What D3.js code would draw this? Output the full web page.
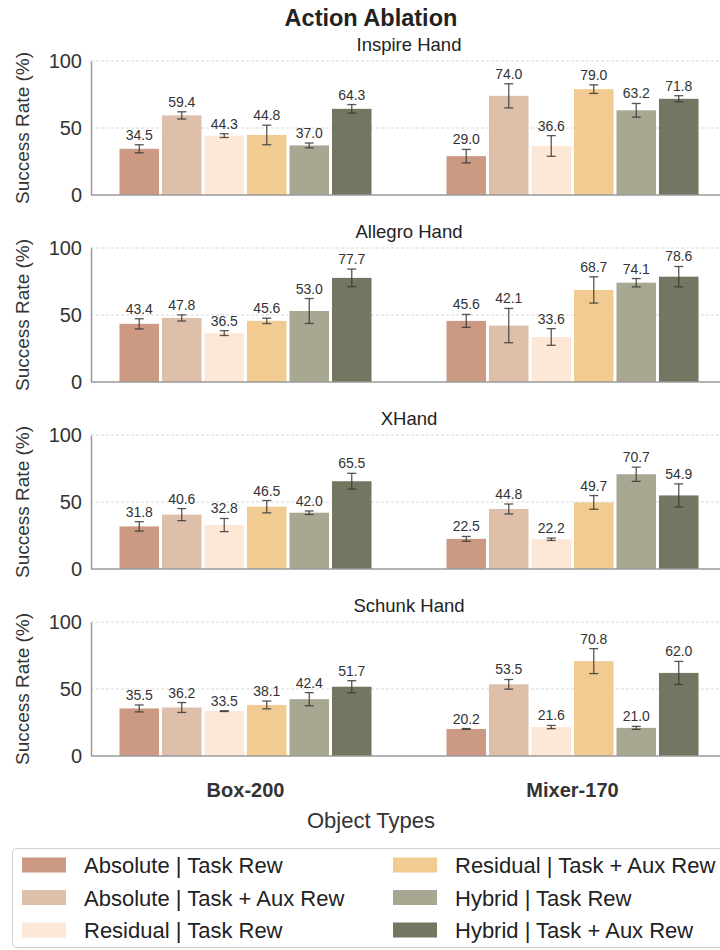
<!DOCTYPE html>
<html>
<head>
<meta charset="utf-8">
<script src="https://cdn.jsdelivr.net/npm/d3@7"></script>
<style>
  body { margin: 0; background: #fff; }
  text { font-family: "Liberation Sans", Arial, sans-serif; }
</style>
</head>
<body>
<div id="chart"></div>
<script>
// data
var hands = ["Inspire Hand", "Allegro Hand", "XHand", "Schunk Hand"];
var objects = ["Box-200", "Mixer-170"];
var methods = ["Absolute | Task Rew", "Absolute | Task + Aux Rew", "Residual | Task Rew",
               "Residual | Task + Aux Rew", "Hybrid | Task Rew", "Hybrid | Task + Aux Rew"];
var colors = ["#cc9a82", "#ddbfaa", "#fde7d7", "#f1cb91", "#a8a791", "#747662"];
var yTicks = [0, 50, 100];

// [object][method]
var meanInspire = [[34.5, 59.4, 44.3, 44.8, 37.0, 64.3], [29.0, 74.0, 36.6, 79.0, 63.2, 71.8]];
var errInspire  = [[3.0, 2.7, 1.4, 7.3, 1.8, 3.2], [5.0, 9.0, 7.7, 3.2, 5.1, 2.3]];
var meanAllegro = [[43.4, 47.8, 36.5, 45.6, 53.0, 77.7], [45.6, 42.1, 33.6, 68.7, 74.1, 78.6]];
var errAllegro  = [[3.8, 2.3, 1.8, 2.0, 9.3, 6.6], [4.8, 12.8, 6.2, 9.8, 3.1, 7.6]];
var meanXHand   = [[31.8, 40.6, 32.8, 46.5, 42.0, 65.5], [22.5, 44.8, 22.2, 49.7, 70.7, 54.9]];
var errXHand    = [[3.5, 4.5, 4.9, 4.6, 1.3, 5.9], [1.8, 3.7, 0.9, 5.1, 5.3, 8.6]];
var meanSchunk  = [[35.5, 36.2, 33.5, 38.1, 42.4, 51.7], [20.2, 53.5, 21.6, 70.8, 21.0, 62.0]];
var errSchunk   = [[2.6, 3.7, 0.3, 2.9, 4.9, 4.5], [0.3, 3.6, 1.2, 9.3, 1.1, 8.6]];

var means = [meanInspire, meanAllegro, meanXHand, meanSchunk];
var errs = [errInspire, errAllegro, errXHand, errSchunk];

var W = 720, H = 950;
var svg = d3.select("#chart").append("svg")
  .attr("width", W).attr("height", H);

// layout
var axLeft = 91, axRight = 727;
var panelTop = 61, panelH = 134, panelStep = 187;

// group centers and bar offsets
var xGroup = d3.scaleLinear().domain([0, 1]).range([245.5, 572.5]);
var xBar = d3.scaleBand().domain(d3.range(methods.length))
  .range([-127.5, 127.5]).paddingInner(0.07).paddingOuter(0.035);

// title
svg.append("text")
  .attr("x", 371).attr("y", 26)
  .attr("text-anchor", "middle")
  .style("font-size", "23.5px").style("font-weight", "bold").attr("fill", "#222")
  .text("Action Ablation");

hands.forEach(function(hand, h) {
  var top = panelTop + h * panelStep;
  var y = d3.scaleLinear().domain([0, 100]).range([top + panelH, top]);
  var g = svg.append("g");

  // grid
  g.selectAll(".grid").data(yTicks.filter(function(t) { return t > 0; }))
    .enter().append("line")
      .attr("x1", axLeft).attr("x2", axRight)
      .attr("y1", function(d) { return y(d); }).attr("y2", function(d) { return y(d); })
      .attr("stroke", "#cfcfcf").attr("stroke-width", 0.8)
      .attr("stroke-dasharray", "3,2");

  // panel title
  g.append("text")
    .attr("x", (axLeft + axRight) / 2).attr("y", top - 10)
    .attr("text-anchor", "middle")
    .style("font-size", "18.5px").attr("fill", "#222")
    .text(hand);

  // y axis
  var yAxis = d3.axisLeft(y).tickValues(yTicks).tickSize(0).tickPadding(9);
  var ya = g.append("g").attr("transform", "translate(" + axLeft + ",0)").call(yAxis);
  ya.select(".domain").attr("stroke", "#9a9a9a").attr("stroke-width", 1.5);
  ya.selectAll(".tick text").style("font-size", "20px").attr("fill", "#333")
    .style("font-family", "'Liberation Sans', Arial, sans-serif");

  // y label
  g.append("text")
    .attr("transform", "translate(29," + (top + panelH / 2) + ") rotate(-90)")
    .attr("text-anchor", "middle")
    .style("font-size", "19px").attr("fill", "#333")
    .text("Success Rate (%)");

  // bars
  var rows = [];
  objects.forEach(function(o, oi) {
    methods.forEach(function(m, mi) {
      rows.push({ o: oi, m: mi, v: means[h][oi][mi], e: errs[h][oi][mi] });
    });
  });

  function bx(d) { return xGroup(d.o) + xBar(d.m); }

  g.selectAll(".bar").data(rows).enter().append("rect")
    .attr("x", bx)
    .attr("y", function(d) { return y(d.v); })
    .attr("width", xBar.bandwidth())
    .attr("height", function(d) { return y(0) - y(d.v); })
    .attr("fill", function(d) { return colors[d.m]; });

  // error bars
  var eb = g.selectAll(".err").data(rows).enter().append("g")
    .attr("stroke", "#3a3a3a").attr("stroke-opacity", 0.85).attr("stroke-width", 1.3);
  eb.append("line")
    .attr("x1", function(d) { return bx(d) + xBar.bandwidth() / 2; })
    .attr("x2", function(d) { return bx(d) + xBar.bandwidth() / 2; })
    .attr("y1", function(d) { return y(d.v - d.e); })
    .attr("y2", function(d) { return y(d.v + d.e); });
  [-1, 1].forEach(function(s) {
    eb.append("line")
      .attr("x1", function(d) { return bx(d) + xBar.bandwidth() / 2 - 4.5; })
      .attr("x2", function(d) { return bx(d) + xBar.bandwidth() / 2 + 4.5; })
      .attr("y1", function(d) { return y(d.v + s * d.e); })
      .attr("y2", function(d) { return y(d.v + s * d.e); });
  });

  // value labels
  g.selectAll(".lbl").data(rows).enter().append("text")
    .attr("x", function(d) { return bx(d) + xBar.bandwidth() / 2; })
    .attr("y", function(d) { return y(d.v + d.e) - 5; })
    .attr("text-anchor", "middle")
    .style("font-size", "14px").attr("fill", "#333")
    .text(function(d) { return d.v.toFixed(1); });

  // bottom spine
  g.append("line")
    .attr("x1", axLeft).attr("x2", axRight)
    .attr("y1", y(0)).attr("y2", y(0))
    .attr("stroke", "#9a9a9a").attr("stroke-width", 1.5);

  // group labels under last panel
  if (h === hands.length - 1) {
    g.selectAll(".grp").data(objects).enter().append("text")
      .attr("x", function(d, i) { return xGroup(i); })
      .attr("y", y(0) + 41)
      .attr("text-anchor", "middle")
      .style("font-size", "20px").style("font-weight", "bold").attr("fill", "#333")
      .text(function(d) { return d; });
  }
});

// x axis label
svg.append("text")
  .attr("x", 371).attr("y", 828)
  .attr("text-anchor", "middle")
  .style("font-size", "22px").attr("fill", "#333")
  .text("Object Types");

// legend
var leg = svg.append("g");
leg.append("rect")
  .attr("x", 12.5).attr("y", 848.5).attr("width", 760).attr("height", 99)
  .attr("rx", 4).attr("fill", "#fff").attr("stroke", "#d0d0d0");

var legItems = leg.selectAll(".item").data(methods).enter().append("g")
  .attr("transform", function(d, i) {
    var col = Math.floor(i / 3), row = i % 3;
    return "translate(" + (col === 0 ? 22 : 393) + "," + (865 + row * 32.5) + ")";
  });
legItems.append("rect")
  .attr("x", 0).attr("y", -7.5).attr("width", 44).attr("height", 15)
  .attr("fill", function(d, i) { return colors[i]; });
legItems.append("text")
  .attr("x", 62).attr("y", 8)
  .style("font-size", "22px").attr("fill", "#222")
  .text(function(d) { return d; });
</script>
</body>
</html>
